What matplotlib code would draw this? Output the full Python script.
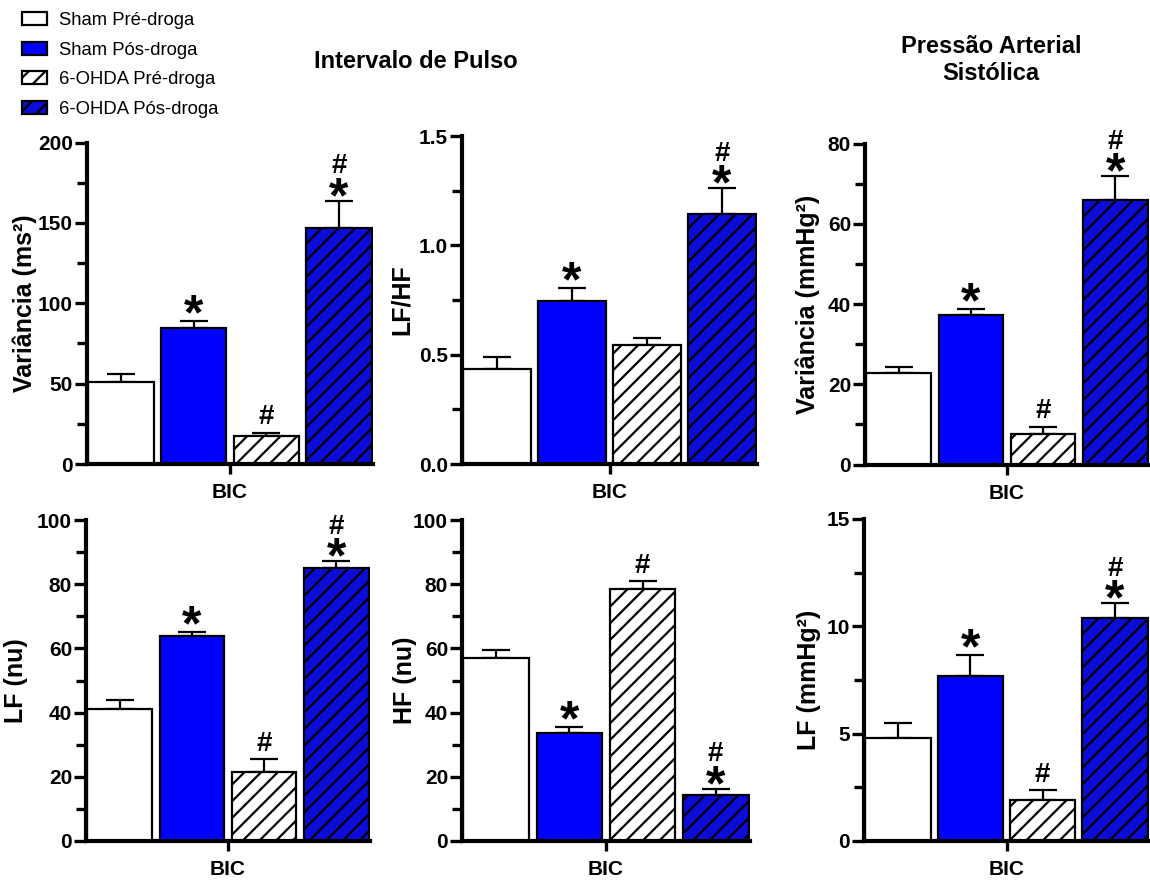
import matplotlib
matplotlib.use("Agg")
import matplotlib.pyplot as plt
from matplotlib.ticker import MultipleLocator, FormatStrFormatter

plt.rcParams['font.family'] = ['Liberation Sans', 'DejaVu Sans']
plt.rcParams['hatch.linewidth'] = 1.6

# ---------------- data ----------------
groups = ["Sham Pré-droga", "Sham Pós-droga", "6-OHDA Pré-droga", "6-OHDA Pós-droga"]
x_label = "BIC"

ip_var_mean = [51.0, 84.5, 17.7, 147.0]
ip_var_err = [5.0, 4.5, 1.7, 16.5]

ip_lfhf_mean = [0.435, 0.745, 0.542, 1.145]
ip_lfhf_err = [0.053, 0.061, 0.035, 0.115]

sap_var_mean = [22.7, 37.2, 7.7, 66.0]
sap_var_err = [1.5, 1.6, 1.7, 5.8]

ip_lfnu_mean = [41.0, 64.0, 21.4, 85.2]
ip_lfnu_err = [2.9, 1.2, 4.1, 1.9]

ip_hfnu_mean = [57.0, 33.6, 78.4, 14.4]
ip_hfnu_err = [2.6, 1.8, 2.6, 1.85]

sap_lf_mean = [4.8, 7.69, 1.93, 10.40]
sap_lf_err = [0.70, 0.96, 0.44, 0.67]

# significance marks per bar ("*" vs Pré-droga, "#" vs Sham)
marks_ip_var = ["", "*", "#", "*#"]
marks_ip_lfhf = ["", "*", "", "*#"]
marks_sap_var = ["", "*", "#", "*#"]
marks_ip_lfnu = ["", "*", "#", "*#"]
marks_ip_hfnu = ["", "*", "#", "*#"]
marks_sap_lf = ["", "*", "#", "*#"]

ylabels = ["Variância (ms²)", "LF/HF", "Variância (mmHg²)",
           "LF (nu)", "HF (nu)", "LF (mmHg²)"]
ymax = [200, 1.5, 80, 100, 100, 15]
ymajor = [50, 0.5, 20, 20, 20, 5]
yminor = [25, 0.25, 10, 10, 10, 2.5]

title_ip = "Intervalo de Pulso"
title_sap = "Pressão Arterial\nSistólica"

# ---------------- styles ----------------
face = ["white", "#0000ff", "white", "#0c0cd8"]
hatches = [None, None, "//", "//"]

W, H = 1150, 881
fig = plt.figure(figsize=(W / 100, H / 100), dpi=100)


def rect(l, t, r, b):
    return [l / W, 1 - b / H, (r - l) / W, (b - t) / H]


rects = [rect(87, 142.5, 373, 464), rect(462, 136, 757, 464), rect(865, 143.5, 1149, 464.5),
         rect(86, 520, 370, 841), rect(462, 520, 750, 841), rect(864, 519, 1149, 841)]
label_off = [-50, -48, -45, -58, -45, -43]

panels = [(ip_var_mean, ip_var_err, marks_ip_var),
          (ip_lfhf_mean, ip_lfhf_err, marks_ip_lfhf),
          (sap_var_mean, sap_var_err, marks_sap_var),
          (ip_lfnu_mean, ip_lfnu_err, marks_ip_lfnu),
          (ip_hfnu_mean, ip_hfnu_err, marks_ip_hfnu),
          (sap_lf_mean, sap_lf_err, marks_sap_lf)]

legend_handles = None
for k, (means, errs, marks) in enumerate(panels):
    ax = fig.add_axes(rects[k])
    handles = []
    for i in range(len(groups)):
        b = ax.bar(i, means[i], width=0.9, color=face[i], edgecolor="black",
                   linewidth=1.6, hatch=hatches[i], label=groups[i], zorder=2)
        handles.append(b)
        ax.errorbar(i, means[i], yerr=[[0], [errs[i]]], fmt="none", ecolor="black",
                    elinewidth=1.6, capsize=10, capthick=1.6, zorder=1)
        top = means[i] + errs[i]
        m = marks[i]
        if m == "*":
            ax.annotate("*", (i, top), xytext=(0, -6), textcoords="offset points",
                        ha="center", va="baseline", fontsize=36, fontweight="bold")
        elif m == "#":
            ax.annotate("#", (i, top), xytext=(0, 6), textcoords="offset points",
                        ha="center", va="baseline", fontsize=20, fontweight="bold")
        elif m == "*#":
            ax.annotate("*", (i, top), xytext=(0, -8), textcoords="offset points",
                        ha="center", va="baseline", fontsize=36, fontweight="bold")
            ax.annotate("#", (i, top), xytext=(0, 20), textcoords="offset points",
                        ha="center", va="baseline", fontsize=20, fontweight="bold")
    if legend_handles is None:
        legend_handles = handles
    ax.set_xlim(-0.47, 3.47)
    ax.set_ylim(0, ymax[k])
    ax.yaxis.set_major_locator(MultipleLocator(ymajor[k]))
    ax.yaxis.set_minor_locator(MultipleLocator(yminor[k]))
    if k == 1:
        ax.yaxis.set_major_formatter(FormatStrFormatter("%.1f"))
    ax.set_xticks([1.5])
    ax.set_xticklabels([x_label])
    for s in ["top", "right"]:
        ax.spines[s].set_visible(False)
    for s in ["left", "bottom"]:
        ax.spines[s].set_linewidth(3)
    ax.tick_params(axis="y", which="major", length=9, width=2.4, labelsize=15, pad=1)
    ax.tick_params(axis="y", which="minor", length=7, width=2.4)
    ax.tick_params(axis="x", which="major", length=7, width=2.4, labelsize=15, pad=7)
    for t in ax.get_yticklabels() + ax.get_xticklabels():
        t.set_fontweight("bold")
    ax.set_ylabel(ylabels[k], fontsize=18, fontweight="bold")
    ax.yaxis.set_label_coords(label_off[k] / (rects[k][2] * W), 0.5)
    ax.set_facecolor("none")

fig.text(416 / W, 1 - 62 / H, title_ip, ha="center", va="center",
         fontsize=17, fontweight="bold")
fig.text(991 / W, 1 - 60 / H, title_sap, ha="center", va="center",
         fontsize=17, fontweight="bold", linespacing=1.2)

fig.legend(handles=legend_handles, labels=groups, loc="upper left",
           bbox_to_anchor=(22 / W, 1 - 12 / H), frameon=False, fontsize=13.3,
           handlelength=1.36, handleheight=0.7, handletextpad=0.62,
           labelspacing=0.68, borderpad=0, borderaxespad=0)

fig.savefig("out.png", dpi=100)
